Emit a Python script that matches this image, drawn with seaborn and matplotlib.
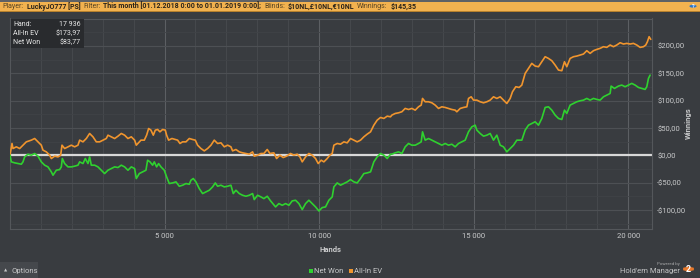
import numpy as np
import pandas as pd
import matplotlib
matplotlib.use("Agg")
import matplotlib.pyplot as plt
import seaborn as sns
from matplotlib.patches import Rectangle, RegularPolygon, Circle
from matplotlib.ticker import MultipleLocator

# ---------------- data ----------------
ev_hands = [0, 65, 97, 205, 313, 420, 528, 690, 798, 906, 1013, 1067, 1175, 1283, 1337, 1445, 1552, 1639,
            1682, 1768, 1876, 1984, 2091, 2199, 2253, 2361, 2469, 2576, 2684, 2792, 2900, 3008, 3115, 3169,
            3277, 3385, 3493, 3600, 3708, 3816, 3924, 4032, 4086, 4237, 4345, 4420, 4485, 4560, 4636, 4700,
            4776, 4851, 4937, 5024, 5067, 5131, 5239, 5347, 5423, 5498, 5584, 5692, 5800, 5908, 5994, 6069,
            6177, 6285, 6393, 6501, 6608, 6716, 6824, 6932, 7040, 7147, 7201, 7309, 7417, 7525, 7632, 7740,
            7848, 7902, 8010, 8118, 8214, 8322, 8408, 8537, 8624, 8731, 8839, 8947, 9076, 9184, 9292, 9378,
            9454, 9562, 9669, 9777, 9885, 9971, 10068, 10154, 10262, 10348, 10424, 10478, 10586, 10693,
            10801, 10909, 11017, 11125, 11232, 11340, 11448, 11556, 11664, 11771, 11879, 11987, 12095,
            12203, 12310, 12354, 12462, 12570, 12677, 12785, 12893, 13001, 13109, 13216, 13303, 13346,
            13432, 13540, 13648, 13755, 13863, 13971, 14079, 14187, 14294, 14402, 14456, 14564, 14672,
            14780, 14833, 14920, 14995, 15103, 15211, 15319, 15426, 15534, 15642, 15750, 15858, 15965,
            16073, 16181, 16256, 16364, 16472, 16558, 16666, 16774, 16881, 16989, 17097, 17205, 17313,
            17420, 17528, 17636, 17744, 17852, 17938, 18013, 18121, 18229, 18337, 18445, 18552, 18660,
            18768, 18876, 18984, 19091, 19199, 19307, 19415, 19523, 19630, 19738, 19846, 19954, 20062,
            20169, 20277, 20385, 20493, 20568, 20622, 20676, 20730]
all_in_ev = [0, 21.4, 12.2, 15.3, 12.2, 18.3, 24.4, 27.5, 30.5, 24.4, 18.3, 9.2, 6.1, 0, -6.1, -1.8, -3.1, 0,
             18.3, 12.2, 15.3, 18.3, 15.3, 18.3, 27.5, 24.4, 30.5, 39.7, 33.6, 24.4, 24.4, 27.5, 30.5, 36.6,
             33.6, 30.5, 34.8, 39.7, 36.6, 30.5, 33.6, 27.5, 18.3, 27.5, 27.5, 36.6, 48.8, 45.8, 36.6, 45.8,
             47.0, 42.7, 47.0, 45.8, 36.6, 27.5, 30.5, 28.7, 27.5, 21.4, 24.4, 24.4, 30.5, 28.7, 27.5, 18.3,
             12.2, 7.9, 12.2, 18.3, 27.5, 21.4, 22.6, 15.3, 18.3, 15.3, 7.9, 10.4, 6.1, 4.3, 3.1, 1.8,
             6.1, -1.8, 0, 3.1, 3.1, 10.4, 3.1, 4.3, -6.1, 0, -4.3, -1.8, 3.1, 0, 1.8, -3.1,
             -12.2, -3.1, 3.1, 0, -6.1, -15.3, -9.2, -12.2, -6.1, 0, 3.1, 18.3, 21.4, 20.1,
             24.4, 22.6, 30.5, 27.5, 24.4, 27.5, 33.6, 38.5, 42.7, 54.9, 64.1, 69.0, 67.2,
             71.4, 70.2, 73.3, 76.3, 77.5, 79.4, 85.5, 83.6, 85.5, 82.4, 88.5, 91.6, 103.8,
             97.7, 97.7, 95.8, 91.6, 85.5, 88.5, 87.3, 85.5, 83.6, 82.4, 79.4, 85.5, 87.3,
             88.5, 103.8, 106.8, 100.7, 100.7, 97.7, 95.8, 97.7, 100.7, 106.8, 103.8, 106.8, 100.7,
             94.6, 103.8, 116.0, 125.2, 123.9, 128.2, 149.6, 158.7, 167.9, 163.0, 161.8, 170.9, 180.1,
             177.0, 172.8, 164.8, 155.7, 154.5, 170.9, 161.8, 177.0, 180.1, 181.3, 183.2, 185.0, 191.1,
             186.2, 191.1, 193.5, 195.4, 198.4, 197.2, 201.5, 198.4, 201.5, 205.7, 203.3, 204.5, 203.3,
             204.5, 201.5, 197.2, 198.4, 201.5, 207.6, 216.7, 211.8]

nw_hands = [0, 43, 151, 259, 367, 420, 474, 582, 690, 798, 906, 1013, 1121, 1229, 1337, 1391, 1498, 1606,
            1660, 1693, 1768, 1876, 1984, 2091, 2199, 2253, 2361, 2436, 2522, 2576, 2630, 2738, 2846, 2954,
            3061, 3169, 3277, 3385, 3493, 3600, 3708, 3816, 3924, 4032, 4086, 4183, 4291, 4398, 4452, 4528,
            4614, 4668, 4743, 4808, 4884, 4991, 5067, 5153, 5261, 5369, 5476, 5584, 5692, 5800, 5854, 5929,
            6015, 6123, 6231, 6339, 6447, 6554, 6641, 6716, 6824, 6932, 7040, 7147, 7223, 7309, 7417, 7525,
            7632, 7740, 7848, 7902, 8010, 8118, 8214, 8322, 8430, 8591, 8699, 8807, 8915, 9023, 9130, 9238,
            9346, 9454, 9562, 9669, 9777, 9885, 9993, 10101, 10208, 10316, 10424, 10478, 10586, 10693,
            10801, 10909, 11017, 11125, 11232, 11340, 11448, 11556, 11664, 11771, 11879, 11987, 12095,
            12203, 12310, 12354, 12462, 12570, 12677, 12785, 12893, 13001, 13109, 13216, 13303, 13346,
            13432, 13540, 13648, 13755, 13863, 13971, 14079, 14187, 14294, 14402, 14510, 14618, 14726,
            14833, 14941, 15049, 15103, 15211, 15319, 15426, 15534, 15642, 15750, 15858, 15965, 16073,
            16181, 16289, 16397, 16558, 16666, 16774, 16881, 16989, 17097, 17205, 17313, 17420, 17528,
            17636, 17744, 17852, 17938, 18013, 18121, 18229, 18337, 18445, 18552, 18660, 18768, 18876,
            18984, 19091, 19199, 19307, 19415, 19447, 19555, 19684, 19792, 19900, 20008, 20115, 20223,
            20331, 20439, 20547, 20601, 20655, 20708]
net_won = [0, -12.2, -14.0, -15.3, -16.5, -12.2, -3.1, 1.8, 0, 3.1, -1.8, -12.2, -18.3, -21.4, -30.5, -36.6,
           -27.5, -26.3, -21.4, -6.1, -15.3, -21.4, -21.4, -20.1, -18.3, -12.2, -15.3, -6.1, -15.3, -3.1,
           -18.3, -18.3, -21.4, -27.5, -33.6, -27.5, -24.4, -21.4, -22.6, -18.3, -21.4, -27.5, -21.4, -24.4,
           -42.7, -33.6, -30.5, -27.5, -9.2, -12.2, -18.3, -12.2, -21.4, -15.3, -21.4, -27.5, -39.7, -51.9,
           -50.7, -48.8, -56.8, -54.9, -51.9, -53.1, -45.8, -42.7, -48.8, -61.1, -70.2, -67.2, -64.1, -58.0,
           -50.7, -56.8, -54.9, -58.0, -56.8, -54.9, -70.2, -64.1, -70.2, -73.3, -75.1, -73.3, -70.2, -81.2,
           -73.3, -76.3, -79.4, -75.1, -83.6, -94.6, -88.5, -91.6, -88.5, -91.6, -83.6, -82.4, -88.5, -99.5,
           -88.5, -82.4, -88.5, -94.6, -102.0, -95.8, -94.6, -82.4, -76.3, -58.0, -50.7, -54.9, -51.9,
           -48.8, -44.6, -48.8, -50.7, -42.7, -33.6, -32.4, -30.5, -12.2, -3.1, 3.1, 0, -6.1, 1.8,
           1.8, 4.3, 6.1, 3.1, 15.3, 21.4, 18.3, 18.3, 21.4, 24.4, 42.7, 27.5, 30.5, 27.5, 24.4, 21.4,
           18.3, 21.4, 18.3, 20.1, 15.3, 21.4, 24.4, 27.5, 42.7, 51.9, 54.9, 45.8, 39.7, 34.8, 36.6,
           39.7, 27.5, 36.6, 18.3, 15.3, 6.1, 12.2, 18.3, 27.5, 27.5, 45.8, 54.9, 58.0, 61.1, 54.9,
           67.2, 87.3, 88.5, 82.4, 73.3, 67.2, 65.3, 82.4, 76.3, 91.6, 94.6, 97.7, 99.5, 100.7, 103.8,
           100.7, 103.8, 102.0, 100.7, 106.8, 109.9, 112.9, 126.4, 122.1, 126.4, 128.2, 125.2, 128.2,
           131.3, 128.2, 123.9, 122.1, 120.3, 125.2, 140.4, 146.5]

series_names = ["Net Won", "All-In EV"]
y_ticks = [-100, -50, 0, 50, 100, 150, 200]
y_tick_labels = ["-$100,00", "-$50,00", "$0,00", "$50,00", "$100,00", "$150,00", "$200,00"]
x_ticks = [5000, 10000, 15000, 20000]
x_tick_labels = ["5 000", "10 000", "15 000", "20 000"]
info_labels = ["Hand:", "All-In EV", "Net Won"]
info_values = ["17 936", "$173,97", "$83,77"]
header_parts = [("Player:", False), ("LuckyJO777 [PS]", True), ("Filter:", False),
                ("This month [01.12.2018 0:00 to 01.01.2019 0:00];", True), ("Blinds:", False),
                ("$10NL,£10NL,€10NL", True), ("Winnings:", False), ("$145,35", True)]

# ---------------- style ----------------
BG = "#393c40"
GREEN = "#2fd12f"
ORANGE = "#f0952e"
TXT = "#c9cacb"

sns.set_theme(style="dark")
plt.rcParams["font.family"] = ["Roboto", "DejaVu Sans"]

W, H = 700, 278
fig = plt.figure(figsize=(W / 100, H / 100), dpi=100, facecolor=BG)
renderer = fig.canvas.get_renderer()


def fx(x):
    return x / W


def fy(y):
    return 1 - y / H


def text_right_px(t):
    bb = t.get_window_extent(renderer=renderer)
    return bb.x1


ax_left, ax_right, ax_top, ax_bot = 10, 651.7, 18.5, 229
ax = fig.add_axes([fx(ax_left), fy(ax_bot), (ax_right - ax_left) / W, (ax_bot - ax_top) / H])
ax.set_facecolor(BG)

df = pd.concat([
    pd.DataFrame({"hands": ev_hands, "winnings": all_in_ev, "series": series_names[1]}),
    pd.DataFrame({"hands": nw_hands, "winnings": net_won, "series": series_names[0]}),
], ignore_index=True)

# zero line
ax.axhline(0, color="#d8d8d8", lw=1.6, zorder=2)

sns.lineplot(data=df, x="hands", y="winnings", hue="series",
             hue_order=[series_names[1], series_names[0]],
             palette={series_names[0]: GREEN, series_names[1]: ORANGE},
             estimator=None, sort=False, legend=False, linewidth=1.2, ax=ax, zorder=3)

ax.set_xlim(0, 20760)
ax.set_ylim(-135, 250)

ax.xaxis.set_minor_locator(MultipleLocator(1000))
ax.yaxis.set_minor_locator(MultipleLocator(25))
ax.set_xticks(x_ticks)
ax.set_xticklabels(x_tick_labels)
ax.set_yticks(y_ticks)
ax.set_yticklabels(y_tick_labels)
ax.yaxis.tick_right()
ax.tick_params(axis="both", which="both", length=0, colors=TXT, labelsize=5.5)
ax.tick_params(axis="y", pad=4)
ax.tick_params(axis="x", pad=3)
for lab in ax.get_yticklabels():
    lab.set_horizontalalignment("left")

ax.grid(False)
ax.xaxis.grid(True, which="major", color="#5c5f63", lw=0.8)
ax.xaxis.grid(True, which="minor", color="#45484c", lw=0.8)
ax.yaxis.grid(True, which="major", color="#4d5054", lw=0.8)
ax.yaxis.grid(True, which="minor", color="#404347", lw=0.6)
ax.set_axisbelow(True)
for sp in ax.spines.values():
    sp.set_visible(True)
    sp.set_color("#54575b")
    sp.set_linewidth(0.8)
ax.set_xlabel("")
ax.set_ylabel("")

# axis titles
fig.text(fx(330), fy(249), "Hands", color=TXT, fontsize=5.5, fontweight="bold", ha="center", va="center")
fig.text(fx(688), fy(123), "Winnings", color=TXT, fontsize=5.5, fontweight="bold",
         ha="center", va="center", rotation=90)

# header bar
fig.add_artist(Rectangle((0, fy(2)), 1, 2 / H, transform=fig.transFigure, color="#5e6165", lw=0))
fig.add_artist(Rectangle((0, fy(10.5)), 1, 8.5 / H, transform=fig.transFigure, color="#f2b24f", lw=0))
fig.add_artist(Rectangle((0, fy(11.5)), 1, 1 / H, transform=fig.transFigure, color="#b7812d", lw=0))
xh = 2.7
for t, bold in header_parts:
    tx = fig.text(fx(xh), fy(6.3), t, fontsize=5.0, fontweight="bold" if bold else "normal",
                  color="#2a2218" if bold else "#5a4522", ha="left", va="center")
    xh = text_right_px(tx) + 2.8
fig.add_artist(Circle((fx(693), fy(6.2)), 3.6 / W, transform=fig.transFigure, color="#2f78c8", lw=0))
fig.text(fx(693), fy(6.2), "?", color="white", fontsize=4, fontweight="bold", ha="center", va="center")

# info box
fig.add_artist(Rectangle((fx(10.5), fy(48)), 73 / W, 28.5 / H, transform=fig.transFigure,
                         color="#292b2e", lw=0, zorder=5))
for i, (l, v) in enumerate(zip(info_labels, info_values)):
    yy = 25 + i * 8.6
    fig.text(fx(13), fy(yy), l, color="#e8e8e8", fontsize=5, ha="left", va="center", zorder=6)
    fig.text(fx(81), fy(yy), v, color="#e8e8e8", fontsize=5, ha="right", va="center", zorder=6)

# legend
lx = 309
for name, col in zip(series_names, [GREEN, ORANGE]):
    fig.add_artist(Rectangle((fx(lx), fy(273.3)), 4 / W, 4 / H, transform=fig.transFigure, color=col, lw=0))
    tl = fig.text(fx(lx + 5.5), fy(271.3), name, color=TXT, fontsize=5.5, ha="left", va="center")
    lx = text_right_px(tl) + 5

# options button
fig.add_artist(Rectangle((0, 0), fx(38), 16 / H, transform=fig.transFigure, color="#45484c", lw=0))
fig.text(fx(6), fy(270.5), "▲", color=TXT, fontsize=3, ha="center", va="center")
fig.text(fx(12), fy(271), "Options", color=TXT, fontsize=5.5, ha="left", va="center")

# Hold'em Manager logo
fig.text(fx(680), fy(264), "Powered by", color="#a8a9aa", fontsize=3.2, ha="right", va="center")
fig.text(fx(680), fy(271), "Hold'em Manager", color="#c2c3c4", fontsize=5.5, ha="right", va="center")
fig.add_artist(RegularPolygon((fx(688.5), fy(269)), numVertices=6, radius=6.2 / W,
                              transform=fig.transFigure, color="#e8782a", lw=0))
fig.text(fx(688.5), fy(269.3), "2", color="white", fontsize=6.5, fontweight="bold", ha="center", va="center")

fig.savefig("out.png", dpi=100, facecolor=BG)
